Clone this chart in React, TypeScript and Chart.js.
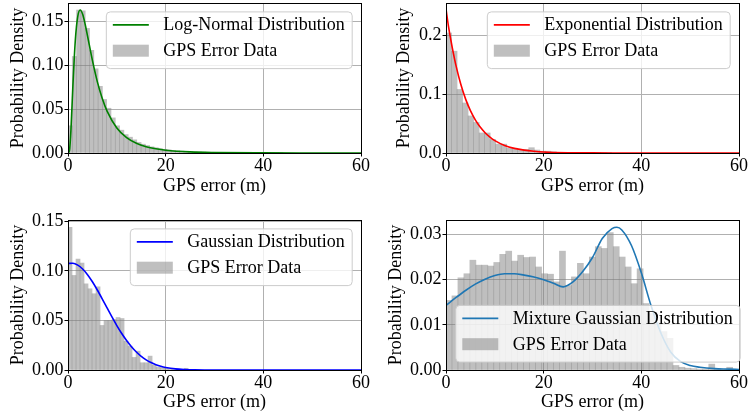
import React, { useEffect, useRef } from "react";
import { Chart, registerables } from "chart.js";

Chart.register(...registerables);

const SERIF = "'Liberation Serif', 'Times New Roman', Times, serif";

// ---------- shared axis values ----------
const xMin = 0;
const xMax = 60;
const xTickStep = 20;
const xLabel = "GPS error (m)";
const yLabel = "Probability Density";
const histLabel = "GPS Error Data";

// ---------- panel 1: log-normal ----------
const lnLabel = "Log-Normal Distribution";
const lnBinWidth = 0.88;
const lnHist = [
  0.031, 0.11, 0.163, 0.162, 0.142, 0.117, 0.096, 0.076, 0.061, 0.051,
  0.04, 0.031, 0.026, 0.021, 0.018, 0.015, 0.012, 0.01, 0.0085, 0.007,
  0.006, 0.005, 0.0042, 0.0036, 0.003, 0.0026, 0.0022, 0.0019, 0.0016, 0.0014,
  0.0012, 0.001, 0.0009, 0.0008, 0.0007, 0.0006, 0.0005, 0.0004, 0.0004, 0.0003,
  0.0003, 0.0002, 0.0002, 0.0002, 0.0001, 0.0001, 0.0001, 0.0001, 0.0001, 0.0001,
];
const lnCurveX = [0, 0.3, 0.6, 1, 1.5, 2, 2.5, 3, 3.5, 4, 5, 6, 7, 8, 10, 12, 14, 16, 18, 20, 25, 30, 40, 50, 60];
const lnCurveY = [
  0, 0.0028, 0.0258, 0.0762, 0.1286, 0.1558, 0.163, 0.1582, 0.1471, 0.1334, 0.1055,
  0.0814, 0.0624, 0.0478, 0.0286, 0.0175, 0.0111, 0.0072, 0.0048, 0.0032, 0.0013,
  0.0006, 0.00015, 0.00005, 0.00002,
];

// ---------- panel 2: exponential ----------
const expLabel = "Exponential Distribution";
const expBinWidth = 1.13;
const expHist = [
  0.204, 0.173, 0.108, 0.085, 0.063, 0.052, 0.034, 0.034, 0.023, 0.015,
  0.015, 0.008, 0.008, 0.006, 0.006, 0.009, 0.005, 0.003, 0.003, 0.002,
  0.001, 0.0008, 0.0005, 0.0004, 0.0003, 0.0002, 0.0002, 0.0001, 0.0001, 0.0001,
];
const expCurveX = [0, 0.5, 1, 1.5, 2, 3, 4, 5, 6, 7, 8, 9, 10, 12, 14, 16, 18, 20, 25, 30, 35, 40, 50, 60];
const expCurveY = [
  0.245, 0.2157, 0.1917, 0.1698, 0.1503, 0.1176, 0.092, 0.072, 0.0564, 0.0441, 0.0345,
  0.027, 0.0211, 0.0129, 0.0079, 0.0049, 0.003, 0.0018, 0.00054, 0.00016, 0.00005,
  0.00001, 0, 0,
];

// ---------- panel 3: gaussian ----------
const gaLabel = "Gaussian Distribution";
const gaBinWidth = 0.82;
const gaHist = [
  0.144, 0.0955, 0.112, 0.108, 0.087, 0.082, 0.077, 0.084, 0.045, 0.05,
  0.05, 0.051, 0.053, 0.052, 0.029, 0.024, 0.0127, 0.019, 0.0073, 0.0073,
  0.014, 0.005, 0.003, 0.0025, 0.0017, 0.001, 0.0005, 0.0003, 0.0003, 0.0017,
];
const gaCurveX = [0, 1, 2, 3, 4, 5, 6, 7, 8, 9, 10, 11, 12, 13, 14, 15, 16, 17, 18, 19, 20, 22, 24, 26, 28, 30, 40, 50, 60];
const gaCurveY = [
  0.1076, 0.1078, 0.1059, 0.102, 0.0963, 0.0891, 0.0808, 0.0719, 0.0627, 0.0536,
  0.0449, 0.0369, 0.0298, 0.0235, 0.0182, 0.0138, 0.0103, 0.0075, 0.0054, 0.0038,
  0.0026, 0.0011, 0.00047, 0.00018, 0.00006, 0.00002, 0, 0, 0,
];

// ---------- panel 4: mixture gaussian ----------
const mixLabel = "Mixture Gaussian Distribution";
const mixBinWidth = 1.223;
const mixHist = [
  0.0154, 0.0164, 0.0204, 0.0213, 0.0243, 0.0232, 0.0232, 0.023, 0.0238, 0.0256,
  0.0263, 0.0241, 0.0254, 0.0249, 0.025, 0.0228, 0.0213, 0.0212, 0.0195, 0.0263,
  0.0187, 0.0206, 0.0236, 0.0213, 0.025, 0.0273, 0.0269, 0.0304, 0.0273, 0.025,
  0.0228, 0.0191, 0.0224, 0.0147, 0.0125, 0.0105, 0.0085, 0.007, 0.001, 0.0006,
  0.0004, 0.0003, 0.0002, 0.0002, 0.0013, 0.0002, 0.0001, 0.0006, 0.0001,
];
const mixCurveX = [0, 2, 4, 6, 8, 10, 12, 14, 16, 18, 20, 22, 24, 26, 28, 30, 32, 34, 35, 36, 38, 40, 42, 44, 46, 48, 50, 52, 55, 58, 60];
const mixCurveY = [
  0.0143, 0.016, 0.0176, 0.019, 0.0201, 0.0209, 0.0213, 0.0213, 0.021, 0.0206,
  0.02, 0.0192, 0.0184, 0.0195, 0.0218, 0.0249, 0.0291, 0.0313, 0.0316, 0.031,
  0.0275, 0.0215, 0.0142, 0.0082, 0.004, 0.0019, 0.001, 0.0006, 0.0003, 0.0002, 0.0001,
];

// ---------- panel layout ----------
type PanelSpec = {
  left: number; top: number; width: number; height: number;
  yAxisWidth: number; xAxisHeight: number; padTop: number; padRight: number;
  yTitlePad: number; xTitlePad: number;
  yMax: number; yStep: number; yDecimals: number;
  legendLoc: "upper right" | "lower left";
  lineColor: string; lineLabel: string;
  binWidth: number; hist: number[]; curveX: number[]; curveY: number[];
};

const panels: PanelSpec[] = [
  {
    left: 0, top: 0, width: 375, height: 205,
    yAxisWidth: 68, xAxisHeight: 52, padTop: 3, padRight: 14, yTitlePad: 9, xTitlePad: 10,
    yMax: 0.171, yStep: 0.05, yDecimals: 2, legendLoc: "upper right",
    lineColor: "#008000", lineLabel: lnLabel,
    binWidth: lnBinWidth, hist: lnHist, curveX: lnCurveX, curveY: lnCurveY,
  },
  {
    left: 375, top: 0, width: 374, height: 205,
    yAxisWidth: 71, xAxisHeight: 52, padTop: 3, padRight: 10, yTitlePad: 20.5, xTitlePad: 10,
    yMax: 0.255, yStep: 0.1, yDecimals: 1, legendLoc: "upper right",
    lineColor: "#ff0000", lineLabel: expLabel,
    binWidth: expBinWidth, hist: expHist, curveX: expCurveX, curveY: expCurveY,
  },
  {
    left: 0, top: 205, width: 375, height: 211,
    yAxisWidth: 68, xAxisHeight: 46, padTop: 15, padRight: 14, yTitlePad: 9, xTitlePad: 5,
    yMax: 0.1515, yStep: 0.05, yDecimals: 2, legendLoc: "upper right",
    lineColor: "#0000ff", lineLabel: gaLabel,
    binWidth: gaBinWidth, hist: gaHist, curveX: gaCurveX, curveY: gaCurveY,
  },
  {
    left: 375, top: 205, width: 374, height: 211,
    yAxisWidth: 71, xAxisHeight: 46, padTop: 15, padRight: 10, yTitlePad: 12.2, xTitlePad: 5,
    yMax: 0.0332, yStep: 0.01, yDecimals: 2, legendLoc: "lower left",
    lineColor: "#1f77b4", lineLabel: mixLabel,
    binWidth: mixBinWidth, hist: mixHist, curveX: mixCurveX, curveY: mixCurveY,
  },
];

const align = (v: number) => Math.round(v - 0.5) + 0.5;

const frameLegendPlugin: any = {
  id: "frameLegend",
  afterDatasetsDraw(chart: any, _args: any, opts: any) {
    const { ctx, chartArea: a } = chart;
    ctx.save();
    // axes frame (spines)
    ctx.strokeStyle = "#000";
    ctx.lineWidth = 1;
    const l = align(a.left), r = align(a.right), t = align(a.top), b = align(a.bottom);
    ctx.strokeRect(l, t, r - l, b - t);

    // legend
    ctx.font = `18px ${SERIF}`;
    const items = chart.data.datasets.map((ds: any) => ({
      label: ds.label as string,
      kind: ds.type as string,
      color: ds.type === "line" ? ds.borderColor : ds.backgroundColor,
    }));
    const textW = Math.max(...items.map((it: any) => ctx.measureText(it.label).width));
    const pad = 7;
    const handleLen = 36;
    const handleGap = 14.4;
    const boxW = pad + handleLen + handleGap + textW + pad;
    const boxH = 56.7;
    let x: number, y: number;
    if (opts.loc === "lower left") {
      x = a.left + 9.3;
      y = a.bottom - 8.4 - boxH;
    } else {
      x = a.right - 9.3 - boxW;
      y = a.top + 8.4;
    }
    ctx.beginPath();
    ctx.roundRect(x + 0.5, y + 0.5, boxW, boxH, 4);
    ctx.fillStyle = "rgba(255,255,255,0.8)";
    ctx.fill();
    ctx.strokeStyle = "#cccccc";
    ctx.lineWidth = 1;
    ctx.stroke();

    items.forEach((it: any, i: number) => {
      const cy = y + 14.3 + i * 25.8;
      if (it.kind === "line") {
        ctx.beginPath();
        ctx.moveTo(x + pad, cy - 0.8);
        ctx.lineTo(x + pad + handleLen, cy - 0.8);
        ctx.strokeStyle = it.color;
        ctx.lineWidth = 1.6;
        ctx.stroke();
      } else {
        ctx.fillStyle = it.color;
        ctx.fillRect(x + pad, cy - 6.8, handleLen, 12);
      }
      ctx.fillStyle = "#000";
      ctx.textBaseline = "middle";
      ctx.textAlign = "left";
      ctx.fillText(it.label, x + pad + handleLen + handleGap, cy);
    });
    ctx.restore();
  },
};

function PanelChart({ p }: { p: PanelSpec }) {
  const ref = useRef<HTMLCanvasElement>(null);
  useEffect(() => {
    const canvas = ref.current;
    if (!canvas) return;
    const histData = p.hist.map((v, i) => ({ x: (i + 0.5) * p.binWidth, y: v }));
    const curveData = p.curveX.map((x, i) => ({ x, y: p.curveY[i] }));
    const tickFont = { family: SERIF, size: 18, lineHeight: 1 };
    const chart = new Chart(canvas, {
      type: "bar",
      data: {
        datasets: [
          {
            type: "line",
            label: p.lineLabel,
            data: curveData,
            borderColor: p.lineColor,
            backgroundColor: p.lineColor,
            borderWidth: 1.6,
            pointRadius: 0,
            cubicInterpolationMode: "monotone",
            fill: false,
          } as any,
          {
            type: "bar",
            label: histLabel,
            data: histData,
            backgroundColor: "rgba(128,128,128,0.5)",
            borderWidth: 0,
            inflateAmount: 0.35,
            barPercentage: 1,
            categoryPercentage: 1,
          } as any,
        ],
      },
      options: {
        responsive: false,
        animation: false,
        events: [],
        layout: { padding: { left: 0, right: p.padRight, top: p.padTop, bottom: 0 } },
        plugins: {
          legend: { display: false },
          tooltip: { enabled: false },
          frameLegend: { loc: p.legendLoc },
        } as any,
        scales: {
          x: {
            type: "linear",
            min: xMin,
            max: xMax,
            offset: false,
            ticks: {
              stepSize: xTickStep,
              padding: 0.5,
              color: "#000",
              font: tickFont,
              maxRotation: 0,
              includeBounds: false,
            },
            grid: {
              color: "#b0b0b0",
              lineWidth: 1,
              tickColor: "#000",
              tickLength: 3.5,
              offset: false,
              drawTicks: true,
            },
            border: { display: false },
            title: {
              display: true,
              text: xLabel,
              color: "#000",
              font: tickFont,
              padding: { top: 0, bottom: p.xTitlePad },
            },
            afterFit: (s: any) => {
              s.height = p.xAxisHeight;
              s.paddingLeft = 0;
              s.paddingRight = 0;
            },
          },
          y: {
            type: "linear",
            min: 0,
            max: p.yMax,
            ticks: {
              stepSize: p.yStep,
              includeBounds: false,
              padding: 1,
              color: "#000",
              font: tickFont,
              callback: (v: any) => Number(v).toFixed(p.yDecimals),
            },
            grid: {
              color: "#b0b0b0",
              lineWidth: 1,
              tickColor: "#000",
              tickLength: 3.5,
              drawTicks: true,
            },
            border: { display: false },
            title: {
              display: true,
              text: yLabel,
              color: "#000",
              font: tickFont,
              padding: { top: p.yTitlePad, bottom: 0 },
            },
            afterFit: (s: any) => {
              s.width = p.yAxisWidth;
              s.paddingTop = 0;
              s.paddingBottom = 0;
            },
          },
        } as any,
      },
      plugins: [frameLegendPlugin],
    });
    return () => chart.destroy();
  }, [p]);
  return (
    <canvas
      ref={ref}
      width={p.width}
      height={p.height}
      style={{ position: "absolute", left: p.left, top: p.top, width: p.width, height: p.height }}
    />
  );
}

export default function App() {
  return (
    <div style={{ position: "absolute", left: 0, top: 0, width: 749, height: 416, background: "#fff", overflow: "hidden" }}>
      {panels.map((p, i) => (
        <PanelChart key={i} p={p} />
      ))}
    </div>
  );
}
